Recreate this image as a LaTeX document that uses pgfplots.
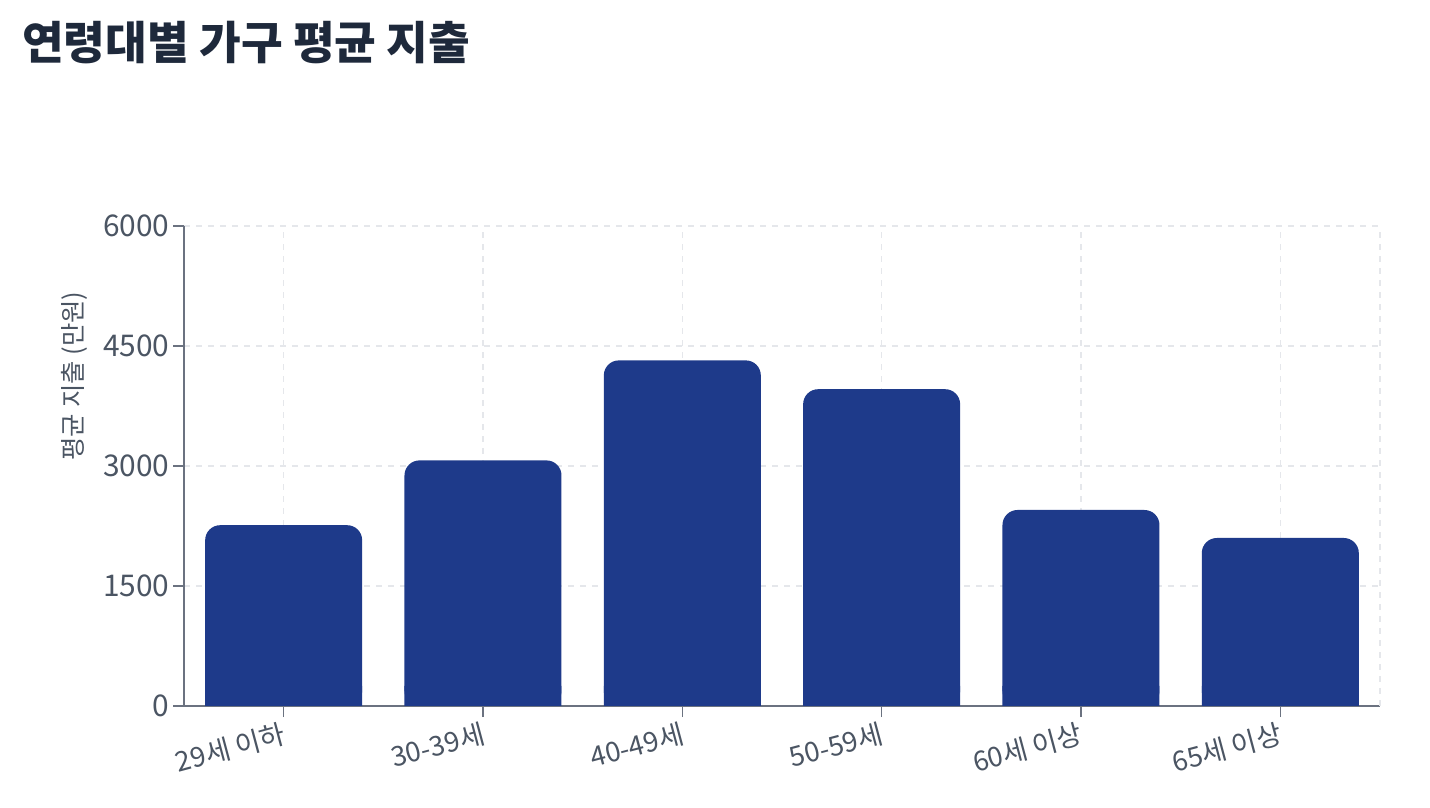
\documentclass[border=0pt]{standalone}
\usepackage{fontspec}
\setmainfont{Noto Sans CJK KR}
\usepackage{pgfplots}
\pgfplotsset{compat=1.18}
\usepackage{pgfplotstable}
\definecolor{barblue}{HTML}{1E3A8A}
\definecolor{titlec}{HTML}{1E293B}
\definecolor{tickc}{HTML}{4B5563}
\definecolor{axisc}{HTML}{6B7280}
\definecolor{gridc}{HTML}{E5E7EB}

\pgfplotstableread{
x y
0 2260
1 3070
2 4320
3 3960
4 2450
5 2100
}\spend

\begin{document}
\begin{tikzpicture}
\path[use as bounding box] (0,0) rectangle (1430bp,808bp);
\node[anchor=west, inner sep=0pt, font=\fontsize{45.5}{52}\selectfont\bfseries, text=titlec] at (22bp,765bp) {연령대별 가구 평균 지출};
\begin{axis}[
  at={(184bp,102bp)}, anchor=south west,
  scale only axis, width=1196bp, height=480bp,
  xmin=-0.5, xmax=5.5, ymin=0, ymax=6000,
  axis lines*=left,
  axis line style={axisc, line width=1.5bp},
  tick style={axisc, line width=1.5bp},
  tick align=outside, major tick length=11bp,
  grid=major,
  major grid style={gridc, dash pattern=on 6bp off 6bp, line width=1.5bp},
  xtick={0,...,5},
  xticklabels={29세 이하,30-39세,40-49세,50-59세,60세 이상,65세 이상},
  extra x ticks={5.5}, extra x tick labels={},
  extra x tick style={major tick length=0pt, grid=major},
  ytick={0,1500,3000,4500,6000},
  scaled y ticks=false,
  /pgf/number format/assume math mode=true,
  yticklabel style={/pgf/number format/1000 sep={}, font=\fontsize{30}{32}\selectfont, text=tickc},
  xticklabel style={rotate=15, anchor=north east, font=\fontsize{27.5}{30}\selectfont, text=tickc},
  ylabel={평균 지출 (만원)},
  every axis y label/.style={at={(axis description cs:-0.092,0.6875)}, rotate=90, anchor=center, font=\fontsize{25.5}{28}\selectfont, text=tickc},
]
\addplot[ybar, bar width=157bp, fill=barblue, draw=none, rounded corners=15bp] table[x=x,y=y]{\spend};
\addplot[ybar, bar width=157bp, fill=barblue, draw=none, restrict y to domain*=0:250] table[x=x,y=y]{\spend};
\end{axis}
\end{tikzpicture}
\end{document}
